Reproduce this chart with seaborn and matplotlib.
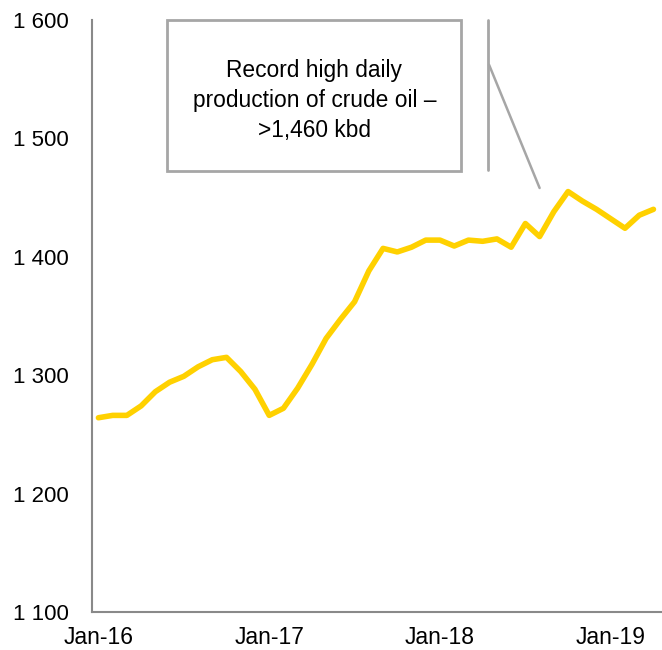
import matplotlib.pyplot as plt
import matplotlib.ticker as mticker
import seaborn as sns
import pandas as pd
import numpy as np

# monthly crude oil production, kbd (Jan-16 .. Apr-19)
months = pd.date_range('2016-01-01', periods=40, freq='MS')
production = [1264, 1266, 1266, 1274, 1286, 1294, 1299, 1307, 1313, 1315,
              1303, 1288, 1266, 1272, 1289, 1309, 1331, 1347, 1362, 1388,
              1407, 1404, 1408, 1414, 1414, 1409, 1414, 1413, 1415, 1408,
              1428, 1417, 1438, 1455, 1447, 1440, 1432, 1424, 1435, 1440]
tick_labels = ['Jan-16', 'Jan-17', 'Jan-18', 'Jan-19']
note = 'Record high daily\nproduction of crude oil –\n>1,460 kbd'

df = pd.DataFrame({'pos': np.arange(len(months)), 'kbd': production})

sns.set_theme(style='white')
plt.rcParams['font.family'] = ['Liberation Sans', 'DejaVu Sans']

fig = plt.figure(figsize=(6.62, 6.50), dpi=100)
ax = fig.add_axes([0.139, 0.0585, 0.861, 0.911])

sns.lineplot(data=df, x='pos', y='kbd', ax=ax, color='#FFD100', linewidth=4,
             solid_joinstyle='round', solid_capstyle='round')

ax.set_ylim(1100, 1600)
ax.set_xlim(-0.45, 39.6)
ax.yaxis.set_major_locator(mticker.MultipleLocator(100))
ax.yaxis.set_major_formatter(mticker.FuncFormatter(lambda v, p: f'{v:,.0f}'.replace(',', ' ')))
ax.set_xticks([0, 12, 24, 36])
ax.set_xticklabels(tick_labels)
ax.set_xlabel('')
ax.set_ylabel('')
ax.tick_params(axis='y', length=0, pad=17, labelsize=16, colors='black')
ax.tick_params(axis='x', length=0, pad=10, labelsize=16.5, colors='black')

for side in ['top', 'right']:
    ax.spines[side].set_visible(False)
for side in ['left', 'bottom']:
    ax.spines[side].set_color('#898989')
    ax.spines[side].set_linewidth(1.5)

# callout box and leader lines
grey = '#A6A6A6'
ax.add_patch(plt.Rectangle((4.84, 1472.5), 25.5 - 4.84, 1600 - 1472.5,
                           fill=False, edgecolor=grey, linewidth=2, clip_on=False))
ax.text((4.84 + 25.5) / 2, 1532, note, ha='center', va='center', fontsize=16.4,
        linespacing=1.38, color='black')
ax.plot([27.4, 27.4], [1473, 1600], color=grey, linewidth=2, clip_on=False)
ax.plot([27.45, 31.0], [1562, 1458], color=grey, linewidth=1.8)

plt.savefig('out.png', dpi=100)
